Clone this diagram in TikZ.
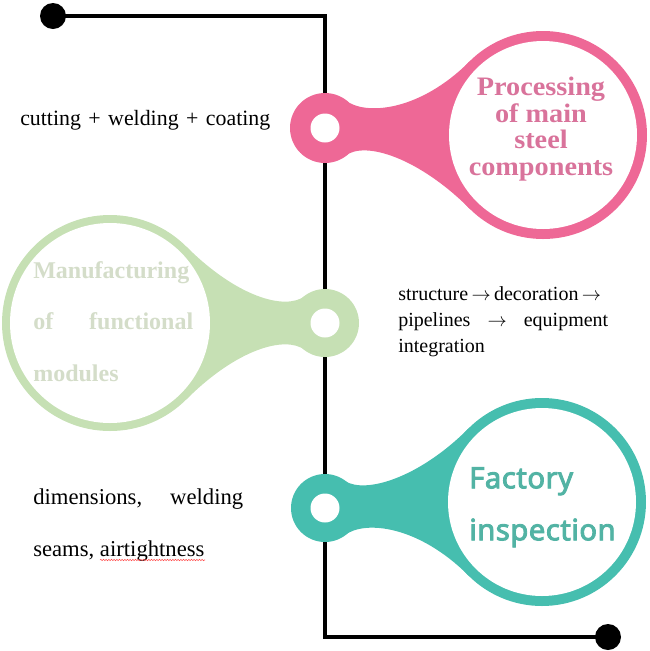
\documentclass[tikz,border=0pt]{standalone}
\usepackage{fontspec}
\setmainfont{Liberation Serif}
\newfontfamily\titleserif[FakeStretch=1.06]{Liberation Serif}
\newfontfamily\titlesans[AutoFakeBold=3,LetterSpace=1.5]{Noto Sans}
\usetikzlibrary{decorations.pathmorphing}
\definecolor{pinkc}{HTML}{EE6896}
\definecolor{pinkt}{HTML}{D9739B}
\definecolor{greenc}{HTML}{C6E0B4}
\definecolor{greent}{HTML}{D4DDC9}
\definecolor{tealc}{HTML}{46BEAF}
\definecolor{tealt}{HTML}{52B3A4}
\newcommand\rarr{\,$\rightarrow$\,}
\begin{document}
\begin{tikzpicture}[x=0.75pt,y=-0.75pt,
  spine/.style={line width=3.6pt,black},
  dotend/.style={circle,fill=black,minimum size=19.5pt,inner sep=0pt},
  plain/.style={inner sep=0pt,text=black},
  ptitle/.style={inner sep=0pt,align=center,text=pinkt,
     font=\titleserif\bfseries\fontsize{20}{19.8}\selectfont},
  gtitle/.style={inner sep=0pt,align=left,text=greent,
     font=\bfseries\fontsize{18}{38.6}\selectfont},
  ttitle/.style={inner sep=0pt,align=left,text=tealt,
     font=\titlesans\bfseries\fontsize{22}{39}\selectfont}]
\useasboundingbox (0,0) rectangle (650,651);
% spine
\node[dotend] (start) at (53,16) {};
\node[dotend] (end) at (608,637) {};
\coordinate (r1) at (325,128);
\coordinate (r2) at (325,323);
\coordinate (r3) at (325,508);
\draw[spine] (start.center) -| (r1) -- (r2) -- (r3) |- (end.center);
% pink pin
\begin{scope}[shift={(r1)}]
  \fill[pinkc] (0,0) circle (35);
  \fill[pinkc] (218,7) circle (104);
  \fill[pinkc] (20,-28) .. controls (40,-12) and (94.5,-16.5) .. (144.5,-66.5)
     -- (218,7) -- (144.5,80.5) .. controls (94.5,30.5) and (40,12) .. (20,28) -- (0,0) -- cycle;
  \fill[white] (218,7) circle (94);
  \fill[white] (0,0) circle (14.5);
\end{scope}
% green pin (mirrored)
\begin{scope}[shift={(r2)},xscale=-1]
  \fill[greenc] (0,0) circle (34);
  \fill[greenc] (215,0) circle (108);
  \fill[greenc] (20,-27) .. controls (40,-12) and (88.6,-26.4) .. (138.6,-76.4)
     -- (215,0) -- (138.6,76.4) .. controls (88.6,26.4) and (40,12) .. (20,27) -- (0,0) -- cycle;
  \fill[white] (215,0) circle (100);
  \fill[white] (0,0) circle (14.5);
\end{scope}
% teal pin
\begin{scope}[shift={(r3)}]
  \fill[tealc] (0,0) circle (34);
  \fill[tealc] (217,-6) circle (104);
  \fill[tealc] (20,-27) .. controls (40,-14) and (93.5,-29.5) .. (143.5,-79.5)
     -- (217,-6) -- (143.5,67.5) .. controls (93.5,17.5) and (40,12) .. (20,27) -- (0,0) -- cycle;
  \fill[white] (217,-6) circle (94);
  \fill[white] (0,0) circle (14.5);
\end{scope}
% titles
\node[ptitle] (pt) at (541,129) {Processing\\of main\\steel\\components};
\node[gtitle,anchor=west] (gt) at (33,321.3)
  {Manufacturing\\\makebox[120pt][s]{of functional}\\modules};
\node[ttitle,anchor=west] (tt) at (469,507.3) {Factory\\inspection};
% descriptions
\node[plain,anchor=base west,font=\fontsize{16.4}{19}\selectfont] (d1) at (20,125)
  {\makebox[187.5pt][s]{cutting + welding + coating}};
\node[plain,anchor=west,align=left,font=\fontsize{15}{19.5}\selectfont] (d2) at (398,321.3)
  {\makebox[157.5pt][s]{structure\rarr decoration\rarr}\\
   \makebox[157.5pt][s]{pipelines \rarr\ equipment}\\integration};
\node[plain,anchor=west,align=left,font=\fontsize{17}{38.5}\selectfont] (d3) at (33,525)
  {\makebox[157.5pt][s]{dimensions, welding}\\seams, airtightness};
\coordinate (w1) at (100,560);
\coordinate (w2) at (205,560);
\draw[red!70!white,line width=0.4pt,decorate,
  decoration={snake,amplitude=0.5pt,segment length=2pt}] (w1) -- (w2);
\end{tikzpicture}
\end{document}
